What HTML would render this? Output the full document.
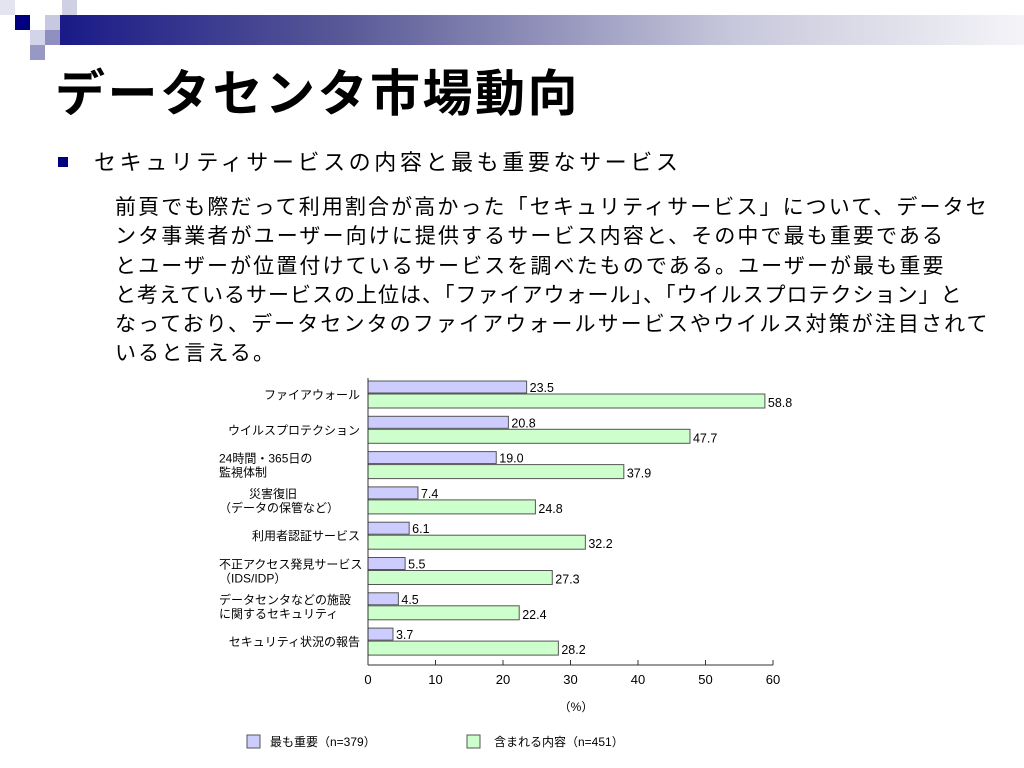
<!DOCTYPE html>
<html><head><meta charset="utf-8"><style>
body{margin:0;width:1024px;height:768px;background:#fff;overflow:hidden;position:relative;font-family:"Liberation Sans","Noto Sans CJK JP",sans-serif;}
.a{position:absolute;}
p{margin:0;white-space:nowrap}
</style></head><body>
<div class="a" style="left:0;top:0;width:15px;height:15px;background:#e4e4f0"></div>
<div class="a" style="left:15px;top:15px;width:15px;height:15px;background:#000080"></div>
<div class="a" style="left:62px;top:0;width:15px;height:15px;background:#d0d0e4"></div>
<div class="a" style="left:45px;top:15px;width:15px;height:15px;background:#c8c8e0"></div>
<div class="a" style="left:30px;top:30px;width:15px;height:15px;background:#d4d4e8"></div>
<div class="a" style="left:45px;top:30px;width:15px;height:15px;background:#9090c0"></div>
<div class="a" style="left:30px;top:45px;width:15px;height:15px;background:#9898c4"></div>
<div class="a" style="left:60px;top:15px;width:964px;height:30px;background:linear-gradient(90deg,#1a1a88,#5a5a98 30%,#c8c8dc 70%,#f4f4f8)"></div>
<div class="a" style="left:55px;top:64px;font-size:50px;letter-spacing:2.5px;font-weight:bold;line-height:60px;white-space:nowrap">データセンタ市場動向</div>
<div class="a" style="left:58px;top:157px;width:10px;height:10px;background:#000080"></div>
<div class="a" style="left:94px;top:149px;font-size:22px;letter-spacing:3.6px;line-height:28px;white-space:nowrap">セキュリティサービスの内容と最も重要なサービス</div>
<div class="a" style="left:115px;top:193px;width:900px;font-size:21px;letter-spacing:2.1px;line-height:29.3px">
<p>前頁でも際だって利用割合が高かった「セキュリティサービス」について、データセ</p>
<p>ンタ事業者がユーザー向けに提供するサービス内容と、その中で最も重要である</p>
<p>とユーザーが位置付けているサービスを調べたものである。ユーザーが最も重要</p>
<p style="letter-spacing:1px">と考えているサービスの上位は、「ファイアウォール」、「ウイルスプロテクション」と</p>
<p>なっており、データセンタのファイアウォールサービスやウイルス対策が注目されて</p>
<p>いると言える。</p></div>
<svg class="a" style="left:0;top:0" width="1024" height="768" font-family="Liberation Sans, Noto Sans CJK JP, sans-serif">
<g id="g"></g></svg>
<script>
const categories=[["ファイアウォール"],["ウイルスプロテクション"],["24時間・365日の","監視体制"],["災害復旧","（データの保管など）"],["利用者認証サービス"],["不正アクセス発見サービス","（IDS/IDP）"],["データセンタなどの施設","に関するセキュリティ"],["セキュリティ状況の報告"]];
const mostImportant=[23.5,20.8,19.0,7.4,6.1,5.5,4.5,3.7];
const included=[58.8,47.7,37.9,24.8,32.2,27.3,22.4,28.2];
const ticks=[0,10,20,30,40,50,60];
const g=document.getElementById('g');
const x=v=>368+v*6.75;
const rowY=i=>381+i*35.3;
function mk(t,a,txt){const e=document.createElementNS('http://www.w3.org/2000/svg',t);for(const k in a)e.setAttribute(k,a[k]);if(txt!=null)e.textContent=txt;g.appendChild(e);return e;}
categories.forEach((c,i)=>{
 const y=rowY(i);
 let b=mk('rect',{x:x(0),y:y,width:x(mostImportant[i])-x(0),height:12,fill:'#ccccff',stroke:'#555',"stroke-width":1});
 
 
 let r=mk('rect',{x:x(0),y:y+13,width:x(included[i])-x(0),height:14,fill:'#ccffcc',stroke:'#555',"stroke-width":1});
 
 
 let l1=mk('text',{x:x(mostImportant[i])+3,y:y+11,"font-size":12.5},mostImportant[i].toFixed(1));
 
 
 let l2=mk('text',{x:x(included[i])+3,y:y+26,"font-size":12.5},included[i].toFixed(1));
 
 
 const cy=y+14;
 c.forEach((s,j)=>{
  const ty=c.length==1?cy+4:cy-3+j*14;
  let t=mk('text',{x:c.length==1?360:(j==0&&s.length<10?249:219),y:ty,"font-size":12,"text-anchor":c.length==1?'end':'start'},s);
  
  
 });
});
let ax=mk('line',{x1:x(0),y1:378,x2:x(0),y2:665,stroke:'#333'});


let xa=mk('line',{x1:x(0),y1:665,x2:x(60),y2:665,stroke:'#333'});


ticks.forEach(v=>{
 mk('line',{x1:x(v),y1:660,x2:x(v),y2:665,stroke:'#333'});
 let t=mk('text',{x:x(v),y:684,"font-size":13,"text-anchor":"middle"},v);
 
 
});
let u=mk('text',{x:576,y:711,"font-size":12,"text-anchor":"middle"},"（%）");


let k1=mk('rect',{x:247,y:735,width:13,height:13,fill:'#ccccff',stroke:'#555'});


let k1t=mk('text',{x:270,y:746,"font-size":12},"最も重要（n=379）");


let k2=mk('rect',{x:467,y:735,width:13,height:13,fill:'#ccffcc',stroke:'#555'});


let k2t=mk('text',{x:494,y:746,"font-size":12},"含まれる内容（n=451）");


</script>
</body></html>
